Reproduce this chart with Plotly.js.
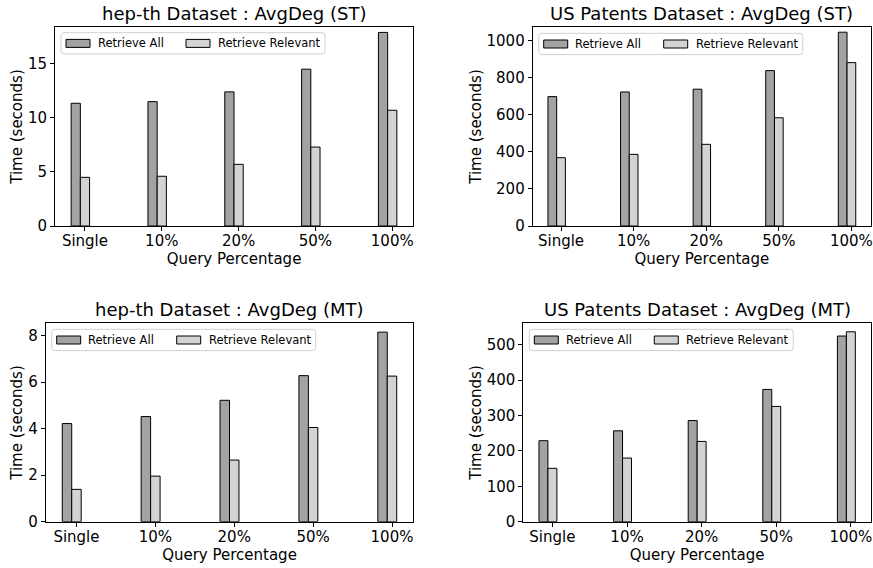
<!DOCTYPE html>
<html>
<head>
<meta charset="utf-8">
<script src="https://cdn.plot.ly/plotly-3.0.1.min.js"></script>
<style>html,body{margin:0;padding:0;background:#fff;}#chart{width:873px;height:568px;}</style>
</head>
<body>
<div id="chart"></div>
<script>
// ---- data ----
const categories = ["Single", "10%", "20%", "50%", "100%"];
const seriesNames = ["Retrieve All", "Retrieve Relevant"];

const titles = [
  "hep-th Dataset : AvgDeg (ST)",
  "US Patents Dataset : AvgDeg (ST)",
  "hep-th Dataset : AvgDeg (MT)",
  "US Patents Dataset : AvgDeg (MT)"
];

const hepST_all = [11.35, 11.5, 12.4, 14.5, 17.9];
const hepST_rel = [4.5, 4.6, 5.7, 7.3, 10.7];
const usST_all = [697, 722, 737, 837, 1044];
const usST_rel = [368, 386, 440, 583, 880];
const hepMT_all = [4.22, 4.52, 5.22, 6.28, 8.15];
const hepMT_rel = [1.39, 1.96, 2.65, 4.05, 6.26];
const usMT_all = [229, 257, 286, 374, 525];
const usMT_rel = [151, 180, 227, 326, 537];

const yTitle = "Time (seconds)";
const xTitle = "Query Percentage";

// ---- styling / layout ----
const FONT = "DejaVu Sans, Liberation Sans, sans-serif";
const colors = ["#a3a3a3", "#d3d3d3"];
const W = 873, H = 568;
const barW = 0.12;

const panels = [
  {all: hepST_all, rel: hepST_rel, px: [55, 413], py: [27, 226], yr: [0, 18.4], dt: 5, leg: [61, 32.7]},
  {all: usST_all, rel: usST_rel, px: [532.7, 871], py: [27, 226], yr: [0, 1072], dt: 200, leg: [538.7, 33.3]},
  {all: hepMT_all, rel: hepMT_rel, px: [45.7, 413.3], py: [323.3, 521.7], yr: [0, 8.53], dt: 2, leg: [51.7, 329.3]},
  {all: usMT_all, rel: usMT_rel, px: [523.3, 871], py: [323.3, 521.7], yr: [0, 561], dt: 100, leg: [529.3, 329.3]}
];

const fx = v => v / W;
const fy = v => 1 - v / H;

function roundRectPath(x0, y0, x1, y1, r) {
  const P = (x, y) => fx(x) + "," + fy(y);
  return "M" + P(x0 + r, y0) + " L" + P(x1 - r, y0) + " Q" + P(x1, y0) + " " + P(x1, y0 + r) +
    " L" + P(x1, y1 - r) + " Q" + P(x1, y1) + " " + P(x1 - r, y1) +
    " L" + P(x0 + r, y1) + " Q" + P(x0, y1) + " " + P(x0, y1 - r) +
    " L" + P(x0, y0 + r) + " Q" + P(x0, y0) + " " + P(x0 + r, y0) + " Z";
}

const traces = [];
const layout = {
  width: W, height: H,
  margin: {l: 0, r: 0, t: 0, b: 0},
  paper_bgcolor: "#fff", plot_bgcolor: "#fff",
  font: {family: FONT, color: "#000", size: 15},
  barmode: "overlay",
  showlegend: false,
  annotations: [],
  shapes: []
};

panels.forEach((p, i) => {
  const n = i + 1;
  const xa = n === 1 ? "xaxis" : "xaxis" + n;
  const ya = n === 1 ? "yaxis" : "yaxis" + n;
  const xr = n === 1 ? "x" : "x" + n;
  const yr = n === 1 ? "y" : "y" + n;
  [p.all, p.rel].forEach((vals, s) => {
    traces.push({
      type: "bar", x: categories, y: vals, name: seriesNames[s],
      xaxis: xr, yaxis: yr,
      width: barW, offset: s === 0 ? -1.5 * barW : -0.5 * barW,
      marker: {color: colors[s], line: {color: "#000", width: 1}},
      hoverinfo: "y"
    });
  });
  const common = {
    showline: true, linecolor: "#000", linewidth: 1, mirror: true,
    ticks: "outside", ticklen: 4, tickcolor: "#000", tickwidth: 1,
    showgrid: false, zeroline: false,
    tickfont: {family: FONT, size: 15, color: "#000"}
  };
  layout[xa] = Object.assign({}, common, {
    domain: [fx(p.px[0]), fx(p.px[1])],
    anchor: yr, type: "category", range: [-0.39, 4.27],
    ticklabelstandoff: -3,
    title: {text: xTitle, font: {family: FONT, size: 15, color: "#000"}, standoff: 1}
  });
  layout[ya] = Object.assign({}, common, {
    domain: [fy(p.py[1]), fy(p.py[0])],
    anchor: xr, range: p.yr, dtick: p.dt,
    title: {text: yTitle, font: {family: FONT, size: 15, color: "#000"}, standoff: 1}
  });

  // subplot title
  layout.annotations.push({
    text: titles[i], xref: "paper", yref: "paper",
    x: fx((p.px[0] + p.px[1]) / 2), y: fy(p.py[0]),
    xanchor: "center", yanchor: "bottom", showarrow: false, yshift: 1,
    font: {family: FONT, size: 18, color: "#000"}
  });

  // legend (box, patches, labels)
  const lx = p.leg[0], ly = p.leg[1];
  layout.shapes.push({
    type: "path", xref: "paper", yref: "paper",
    path: roundRectPath(lx, ly, lx + 264, ly + 21.3, 3),
    fillcolor: "rgba(255,255,255,0.85)", line: {color: "#d0d0d0", width: 1}
  });
  const patchX = [5, 125], textX = [34.7, 155];
  seriesNames.forEach((nm, s) => {
    layout.shapes.push({
      type: "rect", xref: "paper", yref: "paper",
      x0: fx(lx + patchX[s]), x1: fx(lx + patchX[s] + 24),
      y0: fy(ly + 6.7), y1: fy(ly + 14.7),
      fillcolor: colors[s], line: {color: "#000", width: 1}
    });
    layout.annotations.push({
      text: nm, xref: "paper", yref: "paper",
      x: fx(lx + textX[s]), y: fy(ly + 10.7),
      xanchor: "left", yanchor: "middle", showarrow: false,
      font: {family: FONT, size: 11.5, color: "#000"}
    });
  });
});

Plotly.newPlot("chart", traces, layout, {displayModeBar: false, staticPlot: true});
</script>
</body>
</html>
